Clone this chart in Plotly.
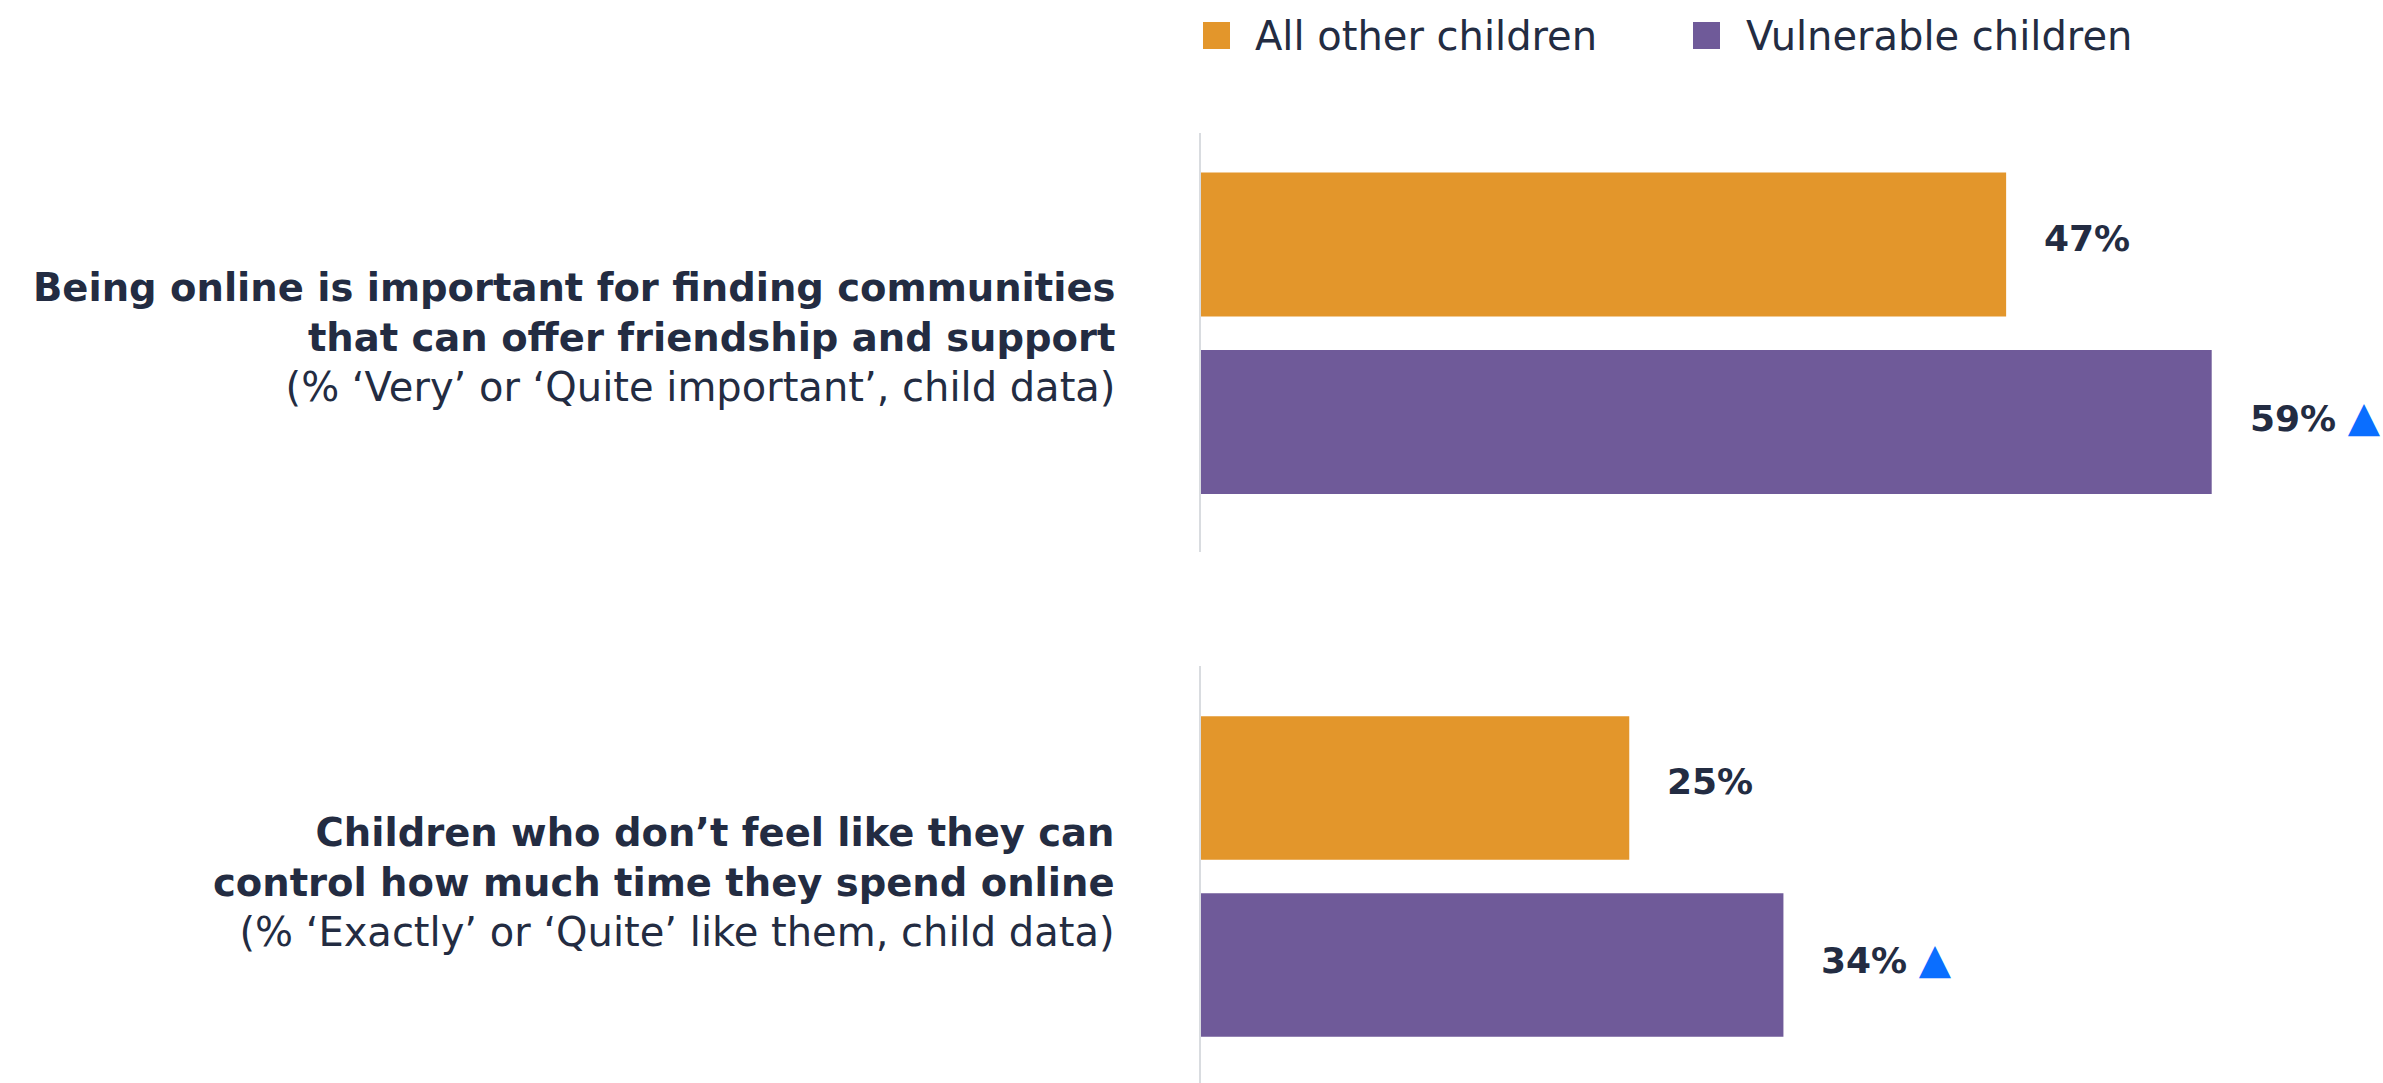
import plotly.graph_objects as go

# ---- data ----
statement_lines = [
    ["Being online is important for finding communities",
     "that can offer friendship and support"],
    ["Children who don’t feel like they can",
     "control how much time they spend online"],
]
notes = [
    "(% ‘Very’ or ‘Quite important’, child data)",
    "(% ‘Exactly’ or ‘Quite’ like them, child data)",
]
series = ["All other children", "Vulnerable children"]
other_values = [47, 25]
vulnerable_values = [59, 34]
vulnerable_significant = [True, True]

# ---- styling ----
W, H = 2383, 1083
ORANGE = "#E3962B"
PURPLE = "#6F5A99"
TEXT = "#232C42"
ARROW = "#0A6EFF"
AXIS_LINE = "#D9DCE0"
FONT = "DejaVu Sans"

X_LEFT = 1201          # left edge of the bar area (px)
X_MAX = 69.0           # value at right edge of the figure
BAR_W = 0.811

def px(x):
    return x / W

def py(y):
    return 1 - y / H

# vertical extents (px from top) of the two panels and their y ranges
panels = [
    dict(top=133, bottom=552, rng=[1.732, -0.628]),
    dict(top=666, bottom=1083, rng=[1.667, -0.689]),
]

fig = go.Figure()
colors = [ORANGE, PURPLE]
values_by_series = [other_values, vulnerable_values]

for p in range(len(panels)):
    xa = "x" if p == 0 else f"x{p+1}"
    ya = "y" if p == 0 else f"y{p+1}"
    for s, name in enumerate(series):
        fig.add_trace(go.Bar(
            x=[values_by_series[s][p]], y=[name], orientation="h",
            name=name, marker=dict(color=colors[s], line=dict(width=0)),
            width=BAR_W, showlegend=False, xaxis=xa, yaxis=ya,
            hoverinfo="skip",
        ))

layout = dict(
    width=W, height=H,
    margin=dict(l=0, r=0, t=0, b=0),
    paper_bgcolor="white", plot_bgcolor="white",
    barmode="overlay", showlegend=False,
    font=dict(family=FONT, color=TEXT),
)
for p, panel in enumerate(panels):
    xk = "xaxis" if p == 0 else f"xaxis{p+1}"
    yk = "yaxis" if p == 0 else f"yaxis{p+1}"
    ya = "y" if p == 0 else f"y{p+1}"
    xa = "x" if p == 0 else f"x{p+1}"
    layout[xk] = dict(domain=[px(X_LEFT), 1], range=[0, X_MAX], visible=False,
                      anchor=ya, fixedrange=True)
    layout[yk] = dict(domain=[py(panel["bottom"]), py(panel["top"])],
                      range=panel["rng"], type="category",
                      categoryorder="array", categoryarray=series,
                      showticklabels=False, showgrid=False, zeroline=False,
                      showline=True, linecolor=AXIS_LINE, linewidth=2,
                      ticks="", anchor=xa, fixedrange=True)
fig.update_layout(**layout)

annotations = []
# value labels
for p in range(len(panels)):
    xa = "x" if p == 0 else f"x{p+1}"
    ya = "y" if p == 0 else f"y{p+1}"
    for s, name in enumerate(series):
        v = values_by_series[s][p]
        txt = f"<b>{v}%</b>"
        if s == 1 and vulnerable_significant[p]:
            txt += f" <span style='color:{ARROW};font-size:42px'>▲</span>"
        annotations.append(dict(
            x=v, y=name, xref=xa, yref=ya, text=txt, showarrow=False,
            xanchor="left", yanchor="middle", xshift=36, yshift=6,
            font=dict(size=36, color=TEXT, family=FONT),
        ))

# statement labels on the left
label_centers = [337, 882]
for p in range(len(panels)):
    txt = ("<b>" + "<br>".join(statement_lines[p]) + "</b><br>"
           + f"<span style='font-size:40px'>{notes[p]}</span>")
    annotations.append(dict(
        x=px(1117), y=py(label_centers[p]), xref="paper", yref="paper",
        text=txt, showarrow=False, xanchor="right", yanchor="middle",
        align="right", font=dict(size=38.5, color=TEXT, family=FONT),
    ))

# legend drawn as swatches + text
legend_items = [(1203, 1253), (1693, 1744)]
shapes = []
for s, name in enumerate(series):
    sx, tx = legend_items[s]
    shapes.append(dict(type="rect", xref="paper", yref="paper",
                       x0=px(sx), x1=px(sx + 27), y0=py(49), y1=py(22),
                       fillcolor=colors[s], line=dict(width=0)))
    annotations.append(dict(
        x=px(tx), y=py(35.5), xref="paper", yref="paper", text=name,
        showarrow=False, xanchor="left", yanchor="middle",
        font=dict(size=40, color=TEXT, family=FONT),
    ))

fig.update_layout(annotations=annotations, shapes=shapes)
fig.write_html("out.html", config={"displayModeBar": False})
